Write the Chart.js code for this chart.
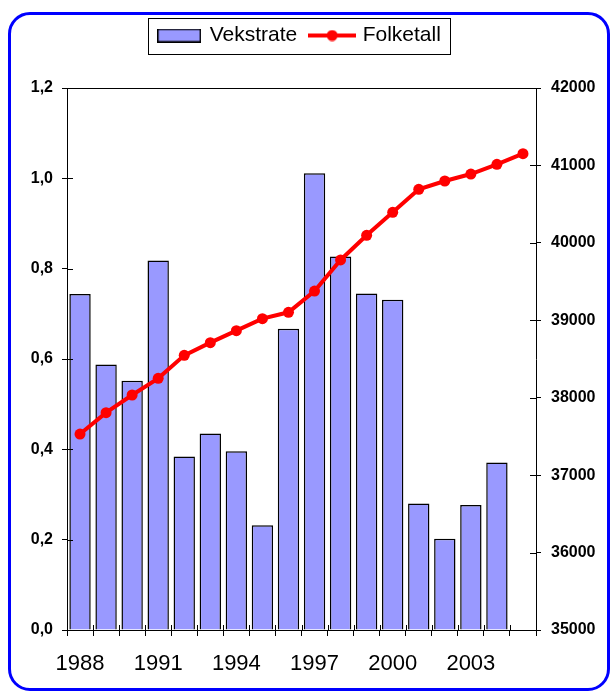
<!DOCTYPE html>
<html>
<head>
<meta charset="utf-8">
<script src="https://cdn.jsdelivr.net/npm/chart.js@4.4.1/dist/chart.umd.min.js"></script>
<style>
body{margin:0;background:#fff;}
#wrap{position:relative;width:611px;height:695px;overflow:hidden;}
#frame{position:absolute;left:8px;top:12px;width:596px;height:673px;border:3px solid #0000ff;border-radius:22px;}
#myChart{position:absolute;left:0;top:0;}
</style>
</head>
<body>
<div id="wrap">
<div id="frame"></div>
<canvas id="myChart" width="611" height="695"></canvas>
</div>
<script>
// data
const years=["1988","1989","1990","1991","1992","1993","1994","1995","1996","1997","1998","1999","2000","2001","2002","2003","2004","2005"];
const vekstrate=[0.744,0.588,0.552,0.818,0.384,0.435,0.396,0.232,0.667,1.011,0.827,0.745,0.731,0.280,0.202,0.277,0.371,null];
const folketall=[37531,37807,38035,38250,38547,38711,38866,39021,39103,39378,39779,40097,40394,40691,40799,40889,41014,41152];
const leftMin=0, leftMax=1.2, leftStep=0.2;
const rightMin=35000, rightMax=42000, rightStep=1000;

const barFill="#9999ff";
const lineRed="#ff0000";
const plainFont="'Liberation Sans',Arial,sans-serif";

// little pictures for the legend symbols
function barSwatch(){
    let c=document.createElement("canvas");
    c.width=44;c.height=14;
    let g=c.getContext("2d");
    g.fillStyle=barFill;
    g.fillRect(0,0,44,14);
    g.strokeStyle="#000";g.lineWidth=1.5;
    g.strokeRect(0.75,0.75,42.5,12.5);
    return c;
}
function lineSwatch(){
    let c=document.createElement("canvas");
    c.width=48;c.height=12;
    let g=c.getContext("2d");
    g.strokeStyle=lineRed;g.lineWidth=4;
    g.beginPath();g.moveTo(0,6);g.lineTo(48,6);g.stroke();
    g.fillStyle=lineRed;
    g.beginPath();g.arc(24,6,5.5,0,Math.PI*2);g.fill();
    return c;
}
const swatches=[barSwatch(),lineSwatch()];

// taller legend box, ticks that cross the axes, border round the legend
const extras={
    id:"extras",
    beforeInit(chart){
        const fit=chart.legend.fit;
        chart.legend.fit=function(){
            fit.bind(chart.legend)();
            this.height+=32;
        }
    },
    afterDraw(chart){
        const ctx=chart.ctx;
        const a=chart.chartArea;
        const yl=chart.scales.y, yr=chart.scales.y1, xs=chart.scales.x;
        ctx.save();
        ctx.strokeStyle="#000";
        ctx.lineWidth=1;
        ctx.beginPath();
        yl.ticks.forEach(t=>{
            let y=Math.round(yl.getPixelForValue(t.value))+0.5;
            ctx.moveTo(a.left,y);ctx.lineTo(a.left+6,y);
        });
        yr.ticks.forEach(t=>{
            let y=Math.round(yr.getPixelForValue(t.value))+0.5;
            ctx.moveTo(a.right-6,y);ctx.lineTo(a.right,y);
        });
        const half=(xs.getPixelForValue(1)-xs.getPixelForValue(0))/2;
        for(let i=0;i<=years.length;i++){
            let x=Math.round(xs.getPixelForValue(i)-half)+0.5;
            ctx.moveTo(x,a.bottom-5);ctx.lineTo(x,a.bottom);
        }
        ctx.stroke();

        const hb=chart.legend.legendHitBoxes;
        if(hb && hb.length){
            const last=hb[hb.length-1];
            const cy=hb[0].top+hb[0].height/2;
            const l=Math.round(hb[0].left-11)+0.5;
            const r=Math.round(last.left+last.width+9)+0.5;
            ctx.strokeStyle="#000";
            ctx.strokeRect(l,Math.round(cy-18)+0.5,r-l,36);
        }
        ctx.restore();
    }
};

let lineChart=new Chart("myChart",{
    type:"bar",
    data:{
        labels:years,
        datasets:[{
            label:"Vekstrate",
            type:"bar",
            data:vekstrate,
            yAxisID:"y",
            backgroundColor:barFill,
            borderColor:"#000",
            borderWidth:1.5,
            barPercentage:0.82,
            categoryPercentage:1,
            order:2
        },{
            label:"Folketall",
            type:"line",
            data:folketall,
            yAxisID:"y1",
            borderColor:lineRed,
            backgroundColor:lineRed,
            borderWidth:4,
            pointRadius:5.5,
            pointBackgroundColor:lineRed,
            pointBorderWidth:0,
            lineTension:0,
            order:1
        }]
    },
    options:{
        responsive:false,
        animation:false,
        layout:{padding:{left:-11,right:0,top:10,bottom:0}},
        plugins:{
            tooltip:{enabled:false},
            title:{display:false},
            legend:{
                display:true,
                position:"top",
                labels:{
                    usePointStyle:true,
                    pointStyleWidth:40,
                    padding:15,
                    color:"#000",
                    font:{family:plainFont,size:21},
                    sort:(a,b)=>a.datasetIndex-b.datasetIndex,
                    generateLabels:(chart)=>{
                        let items=Chart.defaults.plugins.legend.labels.generateLabels(chart);
                        items.forEach(it=>{it.pointStyle=swatches[it.datasetIndex];});
                        return items;
                    }
                }
            }
        },
        scales:{
            x:{
                offset:true,
                grid:{display:true,offset:true,drawOnChartArea:false,tickLength:6,color:"#000"},
                border:{color:"#000"},
                ticks:{
                    autoSkip:false,maxRotation:0,minRotation:0,padding:15,color:"#000",
                    font:{family:plainFont,size:22},
                    callback:(v,i)=> i%3===0 ? years[i] : ""
                },
                afterFit:(s)=>{s.height=65}
            },
            y:{
                position:"left",
                min:leftMin,max:leftMax,
                grid:{
                    drawOnChartArea:true,tickLength:5,tickColor:"#000",
                    color:(c)=> c.tick && Math.abs(c.tick.value-leftMax)<1e-6 ? "#000" : "rgba(0,0,0,0)"
                },
                border:{color:"#000"},
                ticks:{
                    stepSize:leftStep,padding:9,color:"#000",
                    font:{family:plainFont,size:16,weight:"bold"},
                    callback:(v)=> v.toFixed(1).replace(".",",")
                },
                afterFit:(s)=>{s.width=78}
            },
            y1:{
                position:"right",
                min:rightMin,max:rightMax,
                grid:{drawOnChartArea:false,tickLength:5,color:"#000"},
                border:{color:"#000"},
                ticks:{
                    stepSize:rightStep,padding:10,color:"#000",
                    font:{family:plainFont,size:16,weight:"bold"},
                    callback:(v)=> String(v)
                },
                afterFit:(s)=>{s.width=75}
            }
        }
    },
    plugins:[extras]
})
</script>
</body>
</html>
